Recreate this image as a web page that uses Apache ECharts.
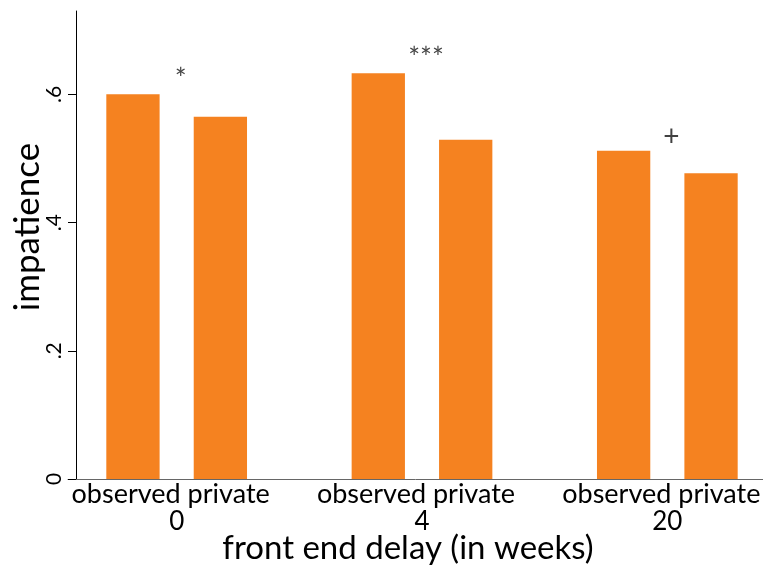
<!DOCTYPE html>
<html>
<head>
<meta charset="utf-8">
<script src="https://cdn.jsdelivr.net/npm/echarts@6/dist/echarts.min.js"></script>
<style>
  html, body { margin: 0; padding: 0; background: #fff; }
  #chart { width: 763px; height: 570px; }
</style>
</head>
<body>
<div id="chart"></div>
<script>
// Front end delay groups and the two conditions shown inside each group
const delays = ['0', '4', '20'];
const conditions = ['observed', 'private'];

// Mean impatience per condition
const observed = [0.600, 0.633, 0.512];
const privateVals = [0.565, 0.529, 0.477];

// Significance of the observed/private difference in each group
const sigMarks = ['*', '***', '+'];

// Y-axis ticks and their printed labels
const yTicks = [0, 0.2, 0.4, 0.6];
const yTickLabels = ['0', '.2', '.4', '.6'];

const FONT = 'Lato';
const ORANGE = '#F58220';
const SIG_GAP = 0.022; // marker sits this far above the taller bar of its group

const sigData = delays.map((d, i) => [i, Math.max(observed[i], privateVals[i]) + SIG_GAP]);

function tickLabel(v) {
  const i = yTicks.findIndex(t => Math.abs(t - v) < 1e-9);
  return i >= 0 ? yTickLabels[i] : '';
}

const chart = echarts.init(document.getElementById('chart'), null, { renderer: 'canvas' });

const barCommon = {
  type: 'bar',
  xAxisIndex: 0,
  yAxisIndex: 0,
  barWidth: 53.3,
  barGap: '64%',
  itemStyle: { color: ORANGE },
  silent: true
};

chart.setOption({
  animation: false,
  backgroundColor: '#fff',
  textStyle: { fontFamily: FONT },
  grid: [
    { left: 54, width: 736, top: 11, bottom: 91, outerBoundsMode: 'none', containLabel: false },
    { left: 68, right: 0, top: 11, bottom: 91, outerBoundsMode: 'none', containLabel: false }
  ],
  xAxis: [
    {
      type: 'category',
      gridIndex: 0,
      data: delays,
      axisLine: { show: false },
      axisTick: { show: false },
      axisLabel: {
        interval: 0,
        margin: 2,
        hideOverlap: false,
        formatter: v => '{s|' + conditions.join(' ') + '}\n{g|' + v + '}',
        rich: {
          s: { fontFamily: FONT, fontSize: 27, lineHeight: 27, color: '#000', padding: [0, 12, 0, 0] },
          g: { fontFamily: FONT, fontSize: 26, lineHeight: 27, color: '#000' }
        }
      }
    },
    {
      type: 'value',
      gridIndex: 1,
      min: 0,
      max: 1,
      axisLine: { show: true, lineStyle: { color: '#666', width: 1 } },
      axisTick: { show: false },
      axisLabel: { show: false },
      splitLine: { show: false },
      name: 'front end delay (in weeks)',
      nameLocation: 'middle',
      nameGap: 53,
      nameMoveOverlap: false,
      nameTextStyle: { fontFamily: FONT, fontSize: 33, color: '#000', padding: [0, 15, 0, 0] }
    }
  ],
  yAxis: [
    {
      type: 'value',
      gridIndex: 0,
      min: 0,
      max: 0.73,
      offset: -22,
      axisLine: { show: true, lineStyle: { color: '#000', width: 1 } },
      axisTick: { show: true, length: 8, customValues: yTicks, lineStyle: { color: '#000', width: 1 } },
      axisLabel: {
        customValues: yTicks,
        rotate: 90,
        margin: 11,
        fontSize: 21,
        color: '#000',
        formatter: tickLabel
      },
      splitLine: { show: false },
      name: 'impatience',
      nameLocation: 'middle',
      nameRotate: 90,
      nameGap: 31,
      nameMoveOverlap: false,
      nameTextStyle: { fontFamily: FONT, fontSize: 35, color: '#000', padding: [0, 0, 0, 36] }
    },
    { type: 'value', gridIndex: 1, show: false, min: 0, max: 1 }
  ],
  series: [
    Object.assign({ name: conditions[0], data: observed }, barCommon),
    Object.assign({ name: conditions[1], data: privateVals }, barCommon),
    {
      type: 'scatter',
      xAxisIndex: 0,
      yAxisIndex: 0,
      symbolSize: 0,
      silent: true,
      data: sigData,
      label: {
        show: true,
        position: 'inside',
        offset: [4, 0],
        fontFamily: FONT,
        fontSize: 28,
        color: '#111',
        formatter: p => sigMarks[p.dataIndex]
      }
    }
  ]
});
</script>
</body>
</html>
